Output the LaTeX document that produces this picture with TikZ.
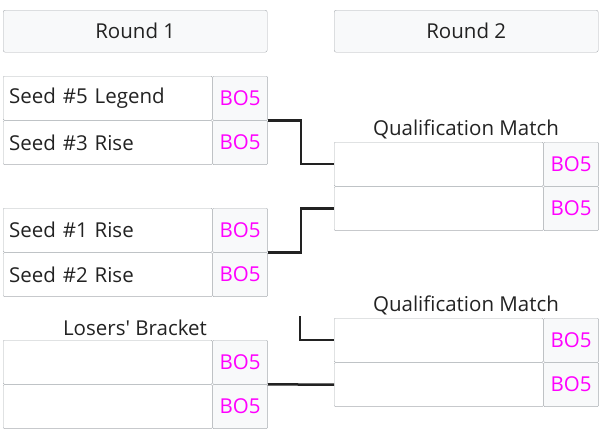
\documentclass[tikz,border=0pt]{standalone}
\usepackage{fontspec}
\setmainfont{Open Sans}
\usetikzlibrary{positioning}
\definecolor{cellline}{HTML}{A9ADB2}
\definecolor{cellfill}{HTML}{F8F9FA}
\definecolor{boscore}{HTML}{FF00FF}
\definecolor{wirecol}{HTML}{222222}
\tikzset{%
  % Specifications for style of nodes:
            headbox/.style = {draw=cellline, fill=cellfill, rounded corners=2pt,
                            minimum width=264pt, minimum height=42pt, inner sep=0pt,
                            anchor=north west, font=\fontsize{20.5}{24}\selectfont, text=wirecol},
            team/.style = {draw=cellline, fill=white, rounded corners=1pt,
                            minimum width=209pt, minimum height=44pt, inner sep=0pt,
                            text width=197pt, align=left,
                            font=\fontsize{20.5}{24}\selectfont, text=wirecol},
            score/.style = {draw=cellline, fill=cellfill, rounded corners=1pt,
                            minimum width=55pt, minimum height=44pt, inner sep=0pt,
                            font=\fontsize{20.5}{24}\selectfont, text=boscore},
            caption/.style = {font=\fontsize{20.5}{24}\selectfont, text=wirecol},
            wire/.style = {draw=wirecol, line width=2.5pt}
}
\begin{document}
\begin{tikzpicture}[x=1pt, y=-1pt]
                \useasboundingbox (0,0) rectangle (605,440);

                \node[headbox] (r1) at (3,10) {Round 1};
                \node[headbox] (r2) at (334,10) {Round 2};

                % round 1
                \node[team, anchor=north west] (m1a) at (3,76) {Seed \#5 Legend};
                \node[score, right=0pt of m1a] (s1a) {BO5};
                \node[team, below=0pt of m1a] (m1b) {Seed \#3 Rise};
                \node[score, right=0pt of m1b] (s1b) {BO5};

                \node[team, anchor=north west] (m2a) at (3,208) {Seed \#1 Rise};
                \node[score, right=0pt of m2a] (s2a) {BO5};
                \node[team, below=0pt of m2a] (m2b) {Seed \#2 Rise};
                \node[score, right=0pt of m2b] (s2b) {BO5};

                \node[team, anchor=north west] (lba) at (3,340) {};
                \node[score, right=0pt of lba] (slba) {BO5};
                \node[team, below=0pt of lba] (lbb) {};
                \node[score, right=0pt of lbb] (slbb) {BO5};
                \node[caption] (lbcap) at (135,328) {Losers\textquotesingle{} Bracket};

                % round 2
                \node[team, anchor=north west] (q1a) at (334,142) {};
                \node[score, right=0pt of q1a] (sq1a) {BO5};
                \node[team, below=0pt of q1a] (q1b) {};
                \node[score, right=0pt of q1b] (sq1b) {BO5};
                \node[caption] (q1cap) at (466,129) {Qualification Match};

                \node[team, anchor=north west] (q2a) at (334,318) {};
                \node[score, right=0pt of q2a] (sq2a) {BO5};
                \node[team, below=0pt of q2a] (q2b) {};
                \node[score, right=0pt of q2b] (sq2b) {BO5};
                \node[caption] (q2cap) at (466,305) {Qualification Match};

                \coordinate (lbtop) at (300,316);

                \draw[wire] (s1a.south east) -- ++(33,0) |- (q1a.west);
                \draw[wire] (s2a.south east) -- ++(33,0) |- (q1b.west);
                \draw[wire] (lbtop) |- (q2a.west);
                \draw[wire] (slba.south east) -- (q2b.west);

            \end{tikzpicture}
\end{document}
